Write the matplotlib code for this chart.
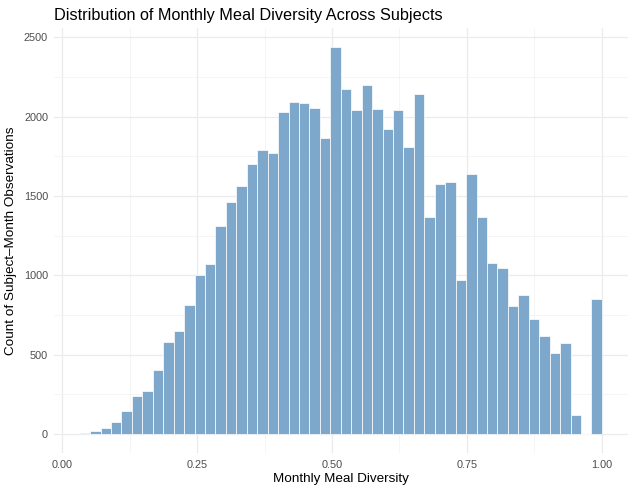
import numpy as np
import matplotlib.pyplot as plt

plt.rcParams["font.family"] = ["Liberation Sans", "DejaVu Sans"]

# histogram counts, 50 bins between the lowest and highest diversity value
counts = [8, 17, 38, 73, 147, 243, 271, 403, 578, 647,
          815, 1000, 1073, 1309, 1464, 1565, 1703, 1791, 1773, 2027,
          2092, 2084, 2057, 1865, 2437, 2172, 2044, 2201, 2050, 1922,
          2040, 1807, 2145, 1367, 1577, 1586, 970, 1636, 1369, 1077,
          1046, 807, 876, 723, 618, 508, 573, 120, 0, 853]
x_min = 0.0326
x_max = 1.0

x_ticks = [0.0, 0.25, 0.5, 0.75, 1.0]
y_ticks = [0, 500, 1000, 1500, 2000, 2500]

edges = np.linspace(x_min, x_max, len(counts) + 1)
widths = np.diff(edges)

fig = plt.figure(figsize=(6.34, 4.93), dpi=100)
ax = fig.add_axes([0.0845, 0.0803, 0.906, 0.863])

ax.bar(edges[:-1], counts, width=widths, align="edge",
       color="#7EA8CB", edgecolor="white", linewidth=0.5, zorder=2)

# ggplot-like expansion of 5%
span = x_max - x_min
ax.set_xlim(x_min - 0.05 * span, x_max + 0.05 * span)
ymax = max(counts)
ax.set_ylim(-0.05 * ymax, 1.05 * ymax)

ax.set_xticks(x_ticks)
ax.set_xticklabels([f"{t:.2f}" for t in x_ticks])
ax.set_yticks(y_ticks)
ax.set_xticks([0.125, 0.375, 0.625, 0.875], minor=True)
ax.set_yticks([250, 750, 1250, 1750, 2250], minor=True)

ax.grid(which="major", color="#EBEBEB", linewidth=0.9, zorder=0)
ax.grid(which="minor", color="#F2F2F2", linewidth=0.5, zorder=0)
ax.set_axisbelow(True)
for s in ax.spines.values():
    s.set_visible(False)
ax.tick_params(which="both", length=0, labelsize=7.8, labelcolor="#4D4D4D")
ax.tick_params(axis="x", pad=5)
ax.tick_params(axis="y", pad=4)

ax.set_xlabel("Monthly Meal Diversity", fontsize=9.7, labelpad=2)
ax.set_ylabel("Count of Subject\u2013Month Observations", fontsize=9.7, labelpad=5)
ax.set_title("Distribution of Monthly Meal Diversity Across Subjects",
             fontsize=11.7, loc="left", pad=6)

fig.savefig("out.png", dpi=100)
